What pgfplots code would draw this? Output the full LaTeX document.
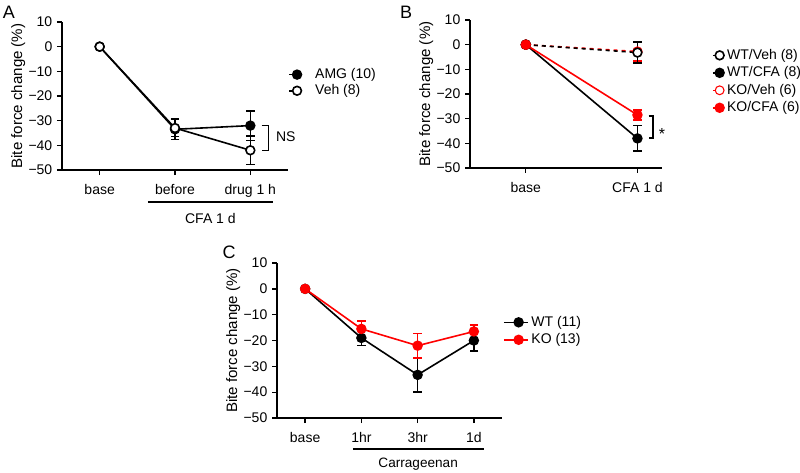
\documentclass[border=0pt]{standalone}
\usepackage{fontspec}
\setmainfont{Liberation Sans}
\usepackage{pgfplots}
\pgfplotsset{compat=1.18}
\pgfplotsset{
 prism/.style={
  scale only axis, clip=false,
  axis x line*=bottom, axis y line*=left,
  axis line style={line width=1pt,-},
  every tick/.style={line width=1pt, black},
  tick align=outside, major tick length=3.75pt,
  ymin=-50, ymax=10, ytick={-50,-40,...,10},
  yticklabels={−50,−40,−30,−20,−10,0,10},
  xticklabel style={yshift=-3.5pt},
  xmin=-0.5,
  ylabel={Bite force change (\%)},
  every axis y label/.style={at={([xshift=-24pt]axis description cs:0,0.5)}, rotate=90, anchor=south, font=\fontsize{11.3}{13}\selectfont},
  legend style={draw=none, fill=none, inner sep=0pt, anchor=west, legend cell align=left},
 },
 errb/.style={error bars/y dir=both, error bars/y explicit,
   error bars/error bar style={line width=1.2pt, solid},
   error bars/error mark options={rotate=90, line width=1.2pt, mark size=3.2pt, solid}},
 blk/.style={black, line width=1.2pt, mark=*, mark size=3.3pt, mark options={solid, fill=black}},
 blkopen/.style={black, line width=1.2pt, mark=*, mark size=3.3pt, mark options={solid, fill=white}},
 redf/.style={red, line width=1.2pt, mark=*, mark size=3.3pt, mark options={solid, fill=red}},
 redopen/.style={red, line width=1.2pt, mark=*, mark size=3.3pt, mark options={solid, fill=white}},
}
\begin{document}
\begin{tikzpicture}[font=\fontsize{10.5}{12.6}\selectfont]
\path[use as bounding box] (0,0) rectangle (600pt,354pt);
\node[font=\fontsize{13.5}{16}\selectfont] at (6.75pt,345pt) {A};
\node[font=\fontsize{13.5}{16}\selectfont] at (304.5pt,345pt) {B};
\node[font=\fontsize{13.5}{16}\selectfont] at (171.75pt,165pt) {C};

% Panel A
\begin{axis}[prism, at={(46.5pt,226.5pt)}, anchor=south west,
  width=169.5pt, height=111pt, xmax=2.5,
  xtick={0,1,2}, xticklabels={base,before,drug 1 h},
  legend style={at={(axis description cs:1.0,0.59)}, row sep=-1pt},
  legend image code/.code={\draw[mark repeat=2,mark phase=2,#1] plot coordinates {(0pt,0pt) (6pt,0pt)}; \path (17pt,0pt);}]
\addplot[blk, errb] coordinates {(0,0) +- (0,0) (1,-33.5) +- (0,4.2) (2,-32) +- (0,6)};
\addlegendentry{AMG (10)}
\addplot[blkopen, errb] coordinates {(0,0) +- (0,0) (1,-33) +- (0,3.5) (2,-42) +- (0,5.7)};
\addlegendentry{Veh (8)}
\draw[line width=1pt] (axis cs:2.15,-32) -- (axis cs:2.24,-32) -- (axis cs:2.24,-42) -- (axis cs:2.15,-42);
\node[anchor=west] at (axis cs:2.28,-36.6) {NS};
\draw[line width=1.5pt] (axis cs:0.64,-63) -- (axis cs:2.30,-63);
\node at (axis cs:1.47,-69.8) {CFA 1 d};
\end{axis}

% Panel B
\begin{axis}[prism, at={(352.5pt,228pt)}, anchor=south west,
  width=144pt, height=111pt, xmax=1.22,
  xtick={0,1}, xticklabels={base,CFA 1 d},
  legend style={at={(axis description cs:1.26,0.584)}, nodes={inner xsep=2pt}},
  legend image code/.code={\draw[mark repeat=2,mark phase=2,#1] plot coordinates {(0pt,0pt) (5pt,0pt) (8pt,0pt)};}]
\addplot[redopen, dashed, errb, forget plot] coordinates {(0,0) +- (0,0) (1,-2.8) +- (0,3.8)};
\addplot[blkopen, dashed, errb, forget plot] coordinates {(0,0) +- (0,0) (1,-3.2) +- (0,4.2)};
\addplot[blk, errb, forget plot] coordinates {(0,0) +- (0,0) (1,-38) +- (0,5.2)};
\addplot[redf, errb, forget plot] coordinates {(0,0) +- (0,0) (1,-28.5) +- (0,2)};
\addlegendimage{blkopen, dashed}
\addlegendentry{WT/Veh (8)}
\addlegendimage{blk}
\addlegendentry{WT/CFA (8)}
\addlegendimage{redopen, line width=0.8pt}
\addlegendentry{KO/Veh (6)}
\addlegendimage{redf}
\addlegendentry{KO/CFA (6)}
\draw[line width=1pt] (axis cs:1.10,-28.9) -- (axis cs:1.14,-28.9) -- (axis cs:1.14,-37.8) -- (axis cs:1.10,-37.8);
\node[font=\fontsize{12}{14}\selectfont] at (axis cs:1.22,-36.3) {*};
\end{axis}

% Panel C
\begin{axis}[prism, at={(207.75pt,40.5pt)}, anchor=south west,
  width=168.75pt, height=116.25pt, xmax=3.5,
  xtick={0,1,2,3}, xticklabels={base,1hr,3hr,1d},
  legend style={at={(axis description cs:1.004,0.561)}},
  legend image code/.code={\draw[mark repeat=2,mark phase=2,#1] plot coordinates {(0pt,0pt) (11pt,0pt) (18pt,0pt)};}]
\addplot[blk, errb] coordinates {(0,0) +- (0,0) (1,-19) +- (0,3) (2,-33.3) +- (0,6.7) (3,-20) +- (0,4)};
\addlegendentry{WT (11)}
\addplot[redf, errb] coordinates {(0,0) +- (0,0) (1,-15.5) +- (0,3) (2,-22) +- (0,4.7) (3,-16.5) +- (0,2.5)};
\addlegendentry{KO (13)}
\draw[line width=1.5pt] (axis cs:0.85,-62) -- (axis cs:3.18,-62);
\node[font=\fontsize{10.2}{12}\selectfont] at (axis cs:2.01,-67.8) {Carrageenan};
\end{axis}
\end{tikzpicture}
\end{document}
